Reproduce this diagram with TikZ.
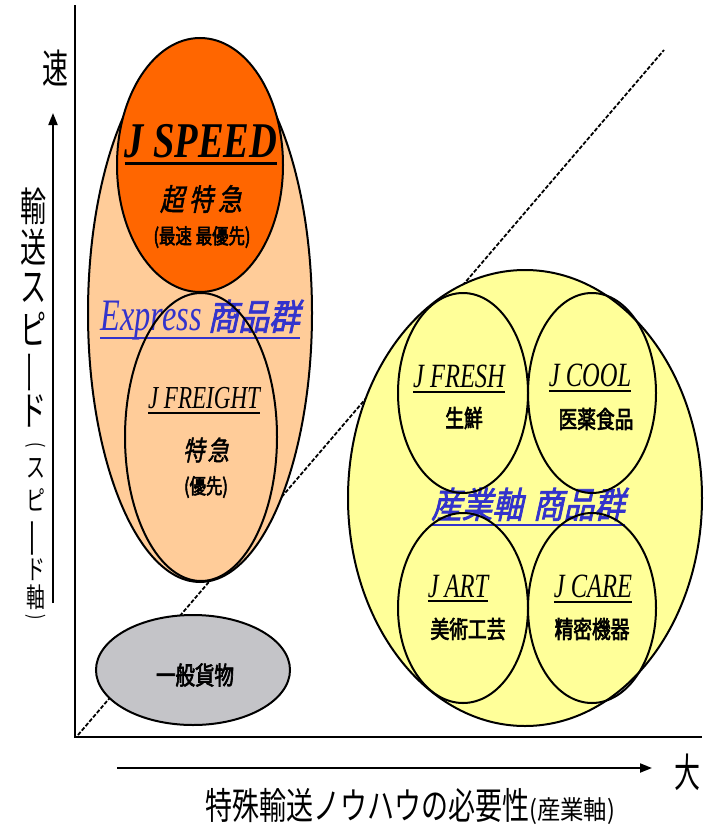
\documentclass[tikz,border=0pt]{standalone}
\usepackage{fontspec}
\usetikzlibrary{shapes.geometric,arrows.meta}
\newfontfamily\jpn{Noto Sans CJK JP}
\newfontfamily\jpv[FakeStretch=0.65]{Noto Sans CJK JP}
\newfontfamily\jpvs[FakeStretch=0.7]{Noto Sans CJK JP}
\newfontfamily\jph[FakeStretch=0.73]{Noto Sans CJK JP}
\newfontfamily\jps[FakeStretch=0.9]{Noto Sans CJK JP}
\newfontfamily\jpb[FakeStretch=0.78,FakeBold=2.6]{Noto Sans CJK JP}
\newfontfamily\jpbs[FakeStretch=0.8,FakeBold=1.6,FakeSlant=0.2]{Noto Sans CJK JP}
\newfontfamily\jpbt[FakeStretch=0.85,FakeBold=2,FakeSlant=0.22]{Noto Sans CJK JP}
\newfontfamily\ser[FakeStretch=0.72]{Liberation Serif}
\newfontfamily\serbig[FakeStretch=0.77]{Liberation Serif}
\definecolor{orangeS}{HTML}{FF6600}
\definecolor{peach}{HTML}{FFCC99}
\definecolor{yellowL}{HTML}{FFFF99}
\definecolor{grayE}{HTML}{C4C4C8}
\definecolor{blueT}{HTML}{3333CC}
\newcommand\myvbarbig{\rotatebox[origin=c]{90}{\scalebox{1}[0.45]{\jpn\fontsize{46}{50}\selectfont ー}}}
\newcommand\myvbarsmall{\rotatebox[origin=c]{90}{\scalebox{1}[0.5]{\jpn\fontsize{42}{46}\selectfont ー}}}
\newcommand\myparl{\rotatebox[origin=c]{-90}{\scalebox{0.8}[1]{\jpn\fontsize{20}{24}\selectfont (}}}
\newcommand\myparr{\rotatebox[origin=c]{-90}{\scalebox{0.8}[1]{\jpn\fontsize{20}{24}\selectfont )}}}
\tikzset{
  ell/.style={ellipse, draw=black, line width=2pt, inner sep=0pt, outer sep=0pt},
  txt/.style={inner sep=0pt, outer sep=0pt},
  ul/.style={line width=2pt},
  axisline/.style={line width=2.2pt},
  arr/.style={line width=2pt, -{Triangle[length=12pt,width=9pt]}},
  diag/.style={line width=1.8pt, dash pattern=on 4pt off 1.8pt},
  vbig/.style={txt, font=\jpv\fontsize{40}{44}\selectfont},
  vsmall/.style={txt, font=\jpvs\fontsize{27}{30}\selectfont},
  latin/.style={txt, anchor=base, font=\ser\itshape\fontsize{34}{38}\selectfont},
  cjklab/.style={txt, font=\jpb\fontsize{24}{28}\selectfont},
}
\begin{document}
\begin{tikzpicture}[x=1pt,y=-1pt]
\useasboundingbox[fill=white] (0,0) rectangle (704,827);
% axes
\coordinate (ytop) at (75,5);
\coordinate (orig) at (75,737);
\coordinate (xend) at (702,737);
\coordinate (d1) at (78,735);
\coordinate (d2) at (664,50);
\draw[diag] (d1) -- (d2);
\draw[axisline] (ytop) -- (orig) -- (xend);
% arrows
\coordinate (va1) at (53,603);
\coordinate (va2) at (53,113);
\draw[arr] (va1) -- (va2);
\coordinate (ha1) at (117,768);
\coordinate (ha2) at (652,768);
\draw[arr] (ha1) -- (ha2);
% filled ellipses
\node[ell, fill=peach, minimum width=224pt, minimum height=538pt] (express) at (200,313) {};
\node[ell, fill=orangeS, minimum width=166pt, minimum height=254pt] (jspeed) at (200,165) {};
\node[ell, fill=grayE, minimum width=194pt, minimum height=110pt] (ippan) at (193,670) {};
\node[ell, fill=yellowL, minimum width=354pt, minimum height=456pt] (sangyo) at (525,498) {};
% titles under inner outlines
\node[txt, anchor=base, text=blueT] (expt) at (200,330) {{\ser\itshape\fontsize{45}{50}\selectfont Express}\hspace{6pt}{\jpbt\fontsize{36}{40}\selectfont 商品群}};
\draw[ul, line width=2.5pt, blueT] ([yshift=-8pt]expt.base west) -- ([yshift=-8pt]expt.base east);
\node[txt, anchor=base, text=blueT, font=\jpbt\fontsize{36}{40}\selectfont] (sangyot) at (528,518) {産業軸\hspace{10pt}商品群};
\draw[ul, line width=2.5pt, blueT] ([yshift=-7pt]sangyot.base west) -- ([yshift=-7pt]sangyot.base east);
% outline-only inner ellipses
\node[ell, minimum width=152pt, minimum height=288pt] (jfreight) at (201,437) {};
\node[ell, minimum width=130pt, minimum height=200pt] (jfresh) at (463,393) {};
\node[ell, minimum width=128pt, minimum height=200pt] (jcool) at (592,393) {};
\node[ell, minimum width=130pt, minimum height=190pt] (jart) at (463,608) {};
\node[ell, minimum width=128pt, minimum height=190pt] (jcare) at (592,608) {};
% J SPEED texts
\node[txt, anchor=base, font=\serbig\bfseries\itshape\fontsize{50}{55}\selectfont] (jspeedt) at (201,157) {J SPEED};
\draw[ul, line width=3pt] ([yshift=-6pt]jspeedt.base west) -- ([yshift=-6pt]jspeedt.base east);
\node[txt, font=\jpbs\fontsize{30}{34}\selectfont] (chotq) at (201,199) {超\hspace{5pt}特\hspace{5pt}急};
\node[txt, font=\jpb\fontsize{21}{24}\selectfont] (saisoku) at (202,237) {(最速\hspace{4pt}最優先)};
% J FREIGHT texts
\node[txt, anchor=base, font=\ser\itshape\fontsize{32}{36}\selectfont] (jfrt) at (204,408) {J FREIGHT};
\draw[ul] ([yshift=-5pt]jfrt.base west) -- ([yshift=-5pt]jfrt.base east);
\node[txt, font=\jpbs\fontsize{27}{30}\selectfont] (tokkyu) at (206,450) {特\hspace{3pt}急};
\node[txt, font=\jpb\fontsize{21}{24}\selectfont] (yusen) at (206,487) {(優先)};
% general cargo
\node[txt, font=\jpb\fontsize{25}{28}\selectfont] (ippant) at (195,675) {一般貨物};
% industry sub-groups
\node[latin] (jfresht) at (459,387) {J FRESH};
\draw[ul] ([yshift=-5pt]jfresht.base west) -- ([yshift=-5pt]jfresht.base east);
\node[cjklab] (seisen) at (464,418) {生鮮};
\node[latin] (jcoolt) at (590,386) {J COOL};
\draw[ul] ([yshift=-5pt]jcoolt.base west) -- ([yshift=-5pt]jcoolt.base east);
\node[cjklab] (iyaku) at (596,419) {医薬食品};
\node[latin] (jartt) at (458,597) {J ART};
\draw[ul] ([yshift=-4pt]jartt.base west) -- ([yshift=-4pt]jartt.base east);
\node[cjklab] (bijutsu) at (468,629) {美術工芸};
\node[latin] (jcaret) at (593,597) {J CARE};
\draw[ul] ([yshift=-5pt]jcaret.base west) -- ([yshift=-5pt]jcaret.base east);
\node[cjklab] (seimitsu) at (592,629) {精密機器};
% axis labels
\node[vbig] (haya) at (55,68) {速};
\node[vbig] (dai) at (687,772) {大};
\foreach \c/\yy [count=\i] in {輸/206,送/247,ス/288,ピ/329,{\myvbarbig}/372,ド/411}
  \node[vbig] (vb\i) at (33,\yy) {\c};
\foreach \c/\yy [count=\i] in {{\myparl}/447,ス/468,ピ/500,{\myvbarsmall}/538,ド/570,軸/597,{\myparr}/619}
  \node[vsmall] (vs\i) at (36,\yy) {\c};
\node[txt, anchor=base west] (xlab) at (205,819) {{\jph\fontsize{37}{40}\selectfont 特殊輸送ノウハウの必要性}{\jps\fontsize{26}{30}\selectfont (産業軸)}};
\end{tikzpicture}
\end{document}
